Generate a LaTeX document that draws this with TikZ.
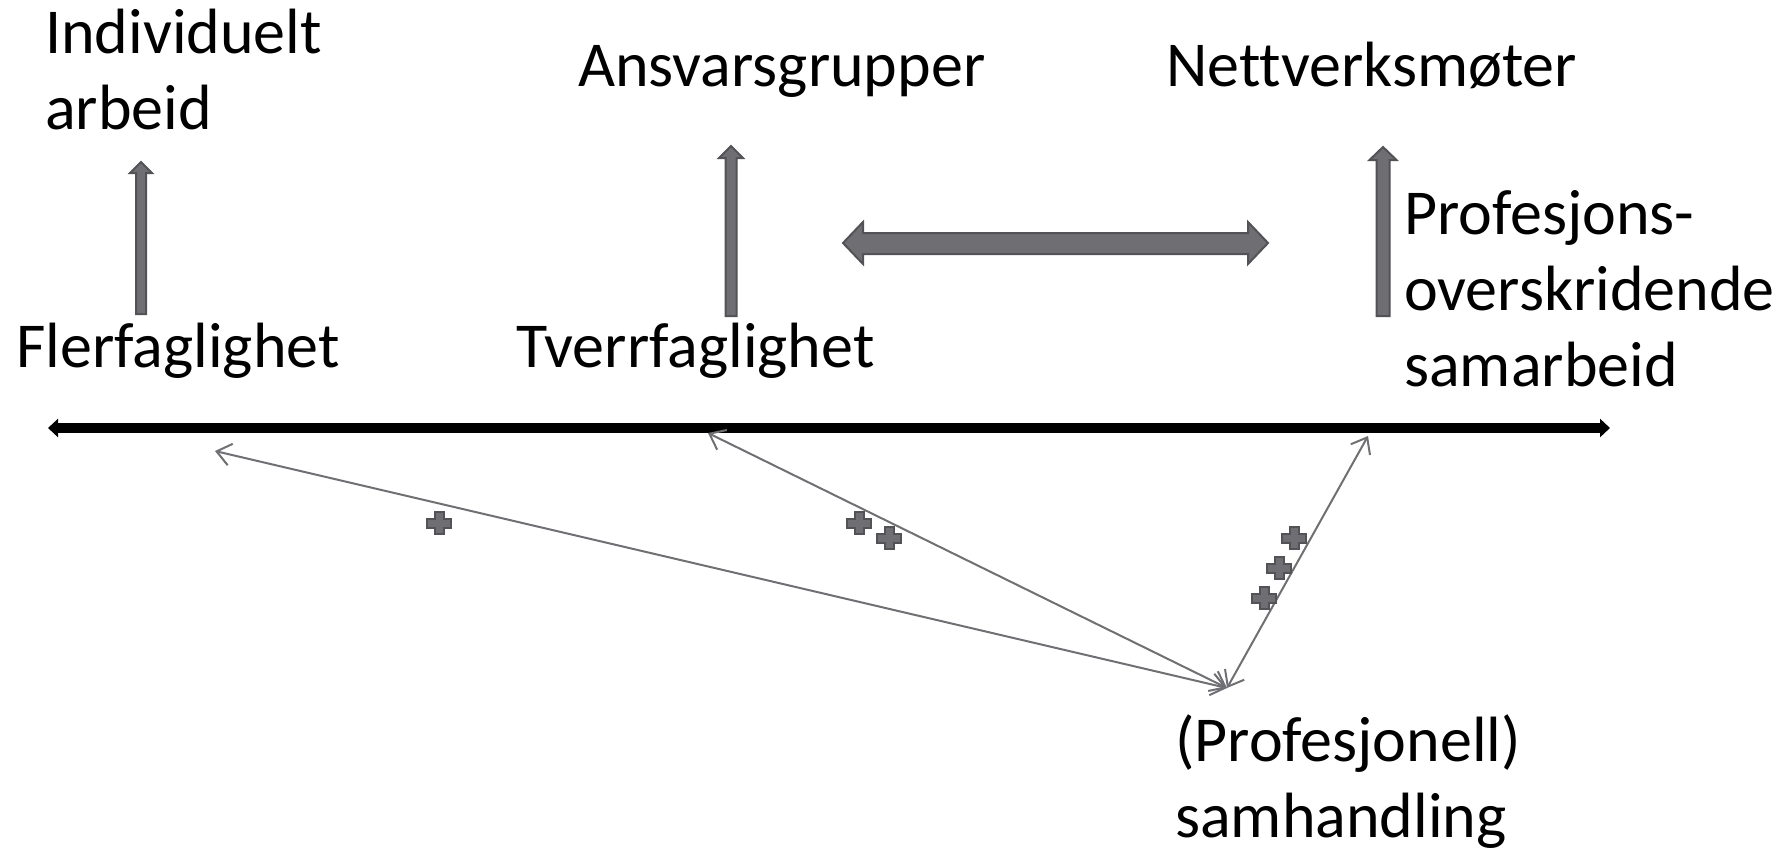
\documentclass[tikz,border=0pt]{standalone}
\usepackage{fontspec}
\setmainfont{Carlito}[Ligatures=NoCommon]
\usetikzlibrary{arrows.meta}
\definecolor{blockfill}{RGB}{110,110,115}
\definecolor{blockline}{RGB}{82,82,87}
\definecolor{thinline}{RGB}{112,112,116}
\tikzset{
  lbl/.style={anchor=base west, inner sep=0pt, align=left, font=\fontsize{64}{76}\selectfont},
  blockarrow/.style={fill=blockfill, draw=blockline, line width=2pt, line join=miter},
  axisline/.style={line width=10pt, {Triangle[length=10pt,width=18pt]}-{Triangle[length=10pt,width=18pt]}},
  thinarrow/.style={draw=thinline, line width=2pt, {Straight Barb[length=14pt,width=22pt]}-{Straight Barb[length=14pt,width=22pt]}},
  plusstyle/.style={fill=blockfill, draw=blockline, line width=2pt},
  plussign/.pic={\draw[plusstyle] (-4.5,-11) -- (4.5,-11) -- (4.5,-4.5) -- (12,-4.5) -- (12,4.5) -- (4.5,4.5) -- (4.5,11) -- (-4.5,11) -- (-4.5,4.5) -- (-12,4.5) -- (-12,-4.5) -- (-4.5,-4.5) -- cycle;}
}
\begin{document}
\begin{tikzpicture}[x=1pt,y=-1pt]
\useasboundingbox (0,0) rectangle (1786,847);
% labels (anchor = baseline of last line)
\node[lbl] (indiv) at (45,129) {Individuelt\\arbeid};
\node[lbl] (ansvar) at (578,86) {Ansvarsgrupper};
\node[lbl] (nettverk) at (1166,86) {Nettverksmøter};
\node[lbl] (fler) at (16,367) {Flerfaglighet};
\node[lbl] (tverr) at (516,367) {Tverrfaglighet};
\node[lbl] (prof) at (1404,386) {Profesjons-\\overskridende\\samarbeid};
\node[lbl] (samh) at (1175,837) {(Profesjonell)\\samhandling};
% block arrows up
\draw[blockarrow] (136,314) -- (136,173) -- (130,173) -- (141,162) -- (152,173) -- (146,173) -- (146,314) -- cycle;
\draw[blockarrow] (725.5,316) -- (725.5,158) -- (719,158) -- (731,146) -- (743,158) -- (736.5,158) -- (736.5,316) -- cycle;
\draw[blockarrow] (1376.5,316) -- (1376.5,160) -- (1369.5,160) -- (1383,147) -- (1396.5,160) -- (1389.5,160) -- (1389.5,316) -- cycle;
% double block arrow
\draw[blockarrow] (843,243) -- (863,222) -- (863,233) -- (1248,233) -- (1248,222) -- (1268,243) -- (1248,264) -- (1248,254) -- (863,254) -- (863,264) -- cycle;
% axis
\coordinate (axL) at (48,428);
\coordinate (axR) at (1610,428);
\draw[axisline] (axL) -- (axR);
% thin arrows
\coordinate (hub) at (1227,688);
\coordinate (aF) at (215,451);
\coordinate (aT) at (708,433);
\coordinate (aP) at (1368,436);
\draw[thinarrow] (hub) -- (aF);
\draw[thinarrow] (hub) -- (aT);
\draw[thinarrow] (hub) -- (aP);
% plus signs
\pic at (439,523) {plussign};
\pic at (859,523) {plussign};
\pic at (889,538) {plussign};
\pic at (1294,538) {plussign};
\pic at (1279,568) {plussign};
\pic at (1264,598) {plussign};
\end{tikzpicture}
\end{document}
